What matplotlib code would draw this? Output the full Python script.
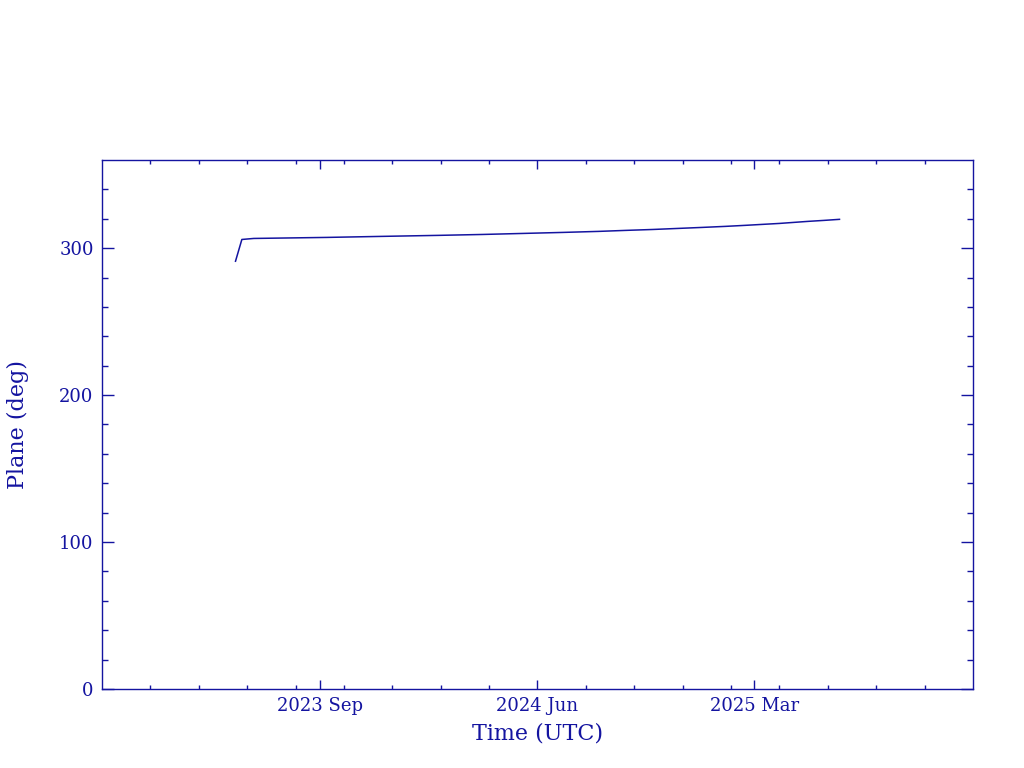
import matplotlib
matplotlib.use("Agg")
import matplotlib.pyplot as plt
import matplotlib.dates as mdates
import numpy as np
import pandas as pd

# values
dates = ["2023-05-18", "2023-05-26", "2023-06-10", "2023-09-10", "2023-11-18",
         "2024-01-29", "2024-03-23", "2024-05-13", "2024-07-03", "2024-08-17",
         "2024-09-21", "2024-10-24", "2024-11-24", "2024-12-25", "2025-01-23",
         "2025-02-17", "2025-03-12", "2025-04-01", "2025-04-19", "2025-05-07",
         "2025-05-28", "2025-06-16"]
plane = [291.1, 305.9, 306.6, 307.3, 308.0,
         308.7, 309.3, 310.0, 310.7, 311.4,
         312.1, 312.7, 313.4, 314.1, 314.8,
         315.5, 316.2, 316.8, 317.5, 318.2,
         318.9, 319.6]
tick_dates = ["2023-09-01", "2024-06-01", "2025-03-01"]
tick_labels = ["2023 Sep", "2024 Jun", "2025 Mar"]
x_range = ["2022-12-01", "2025-12-01"]

col = "#1414a0"
plt.rcParams["font.family"] = ["DejaVu Serif"]

fig = plt.figure(figsize=(10.24, 7.68), dpi=100)
ax = fig.add_axes([0.0996, 0.1029, 0.8506, 0.6888])

x = mdates.date2num(pd.to_datetime(dates))
ax.plot(x, plane, color=col, lw=1.1)

xmin, xmax = mdates.date2num(pd.to_datetime(x_range))
ax.set_xlim(xmin, xmax)
ax.set_ylim(0, 360)

ax.set_xticks(mdates.date2num(pd.to_datetime(tick_dates)))
ax.set_xticklabels(tick_labels)
ax.set_xticks(np.linspace(xmin, xmax, 19)[1:-1], minor=True)
ax.set_yticks([0, 100, 200, 300])
ax.set_yticks([v for v in range(20, 360, 20) if v % 100], minor=True)

for s in ax.spines.values():
    s.set_color(col)
    s.set_linewidth(1.0)

ax.tick_params(axis="both", which="both", direction="in", colors=col,
               top=True, right=True, labelsize=13, width=1.0)
ax.tick_params(axis="x", which="major", length=6.5, pad=6)
ax.tick_params(axis="x", which="minor", length=3)
ax.tick_params(axis="y", which="major", length=8.5, pad=6)
ax.tick_params(axis="y", which="minor", length=4.3)

ax.set_xlabel("Time (UTC)", color=col, fontsize=16, labelpad=5)
ax.set_ylabel("Plane (deg)", color=col, fontsize=16, labelpad=22)

fig.savefig("out.png", dpi=100)
